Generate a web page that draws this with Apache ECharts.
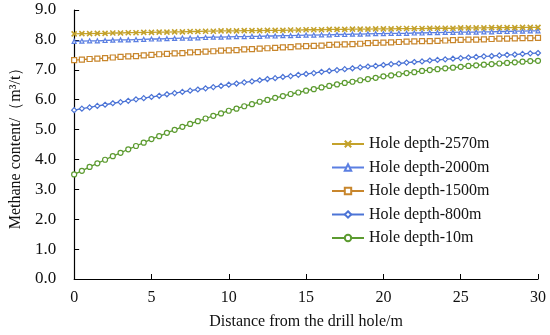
<!DOCTYPE html>
<html>
<head>
<meta charset="utf-8">
<script src="https://cdn.jsdelivr.net/npm/echarts@6/dist/echarts.min.js"></script>
<style>html,body{margin:0;padding:0;background:#fff}#c{width:550px;height:335px}</style>
</head>
<body>
<div id="c"></div>
<script>
var seriesNames = ['Hole depth-2570m','Hole depth-2000m','Hole depth-1500m','Hole depth-800m','Hole depth-10m'];
var xTicks = [0,5,10,15,20,25,30];
var yTicks = [0,1,2,3,4,5,6,7,8,9];
var distance = [0,0.5,1,1.5,2,2.5,3,3.5,4,4.5,5,5.5,6,6.5,7,7.5,8,8.5,9,9.5,10,10.5,11,11.5,12,12.5,13,13.5,14,14.5,15,15.5,16,16.5,17,17.5,18,18.5,19,19.5,20,20.5,21,21.5,22,22.5,23,23.5,24,24.5,25,25.5,26,26.5,27,27.5,28,28.5,29,29.5,30];
var depth2570 = [8.20,8.21,8.21,8.22,8.22,8.23,8.23,8.24,8.24,8.25,8.25,8.26,8.26,8.27,8.27,8.28,8.28,8.29,8.29,8.30,8.30,8.30,8.31,8.31,8.31,8.32,8.32,8.32,8.33,8.33,8.34,8.34,8.34,8.35,8.35,8.35,8.36,8.36,8.36,8.37,8.37,8.37,8.38,8.38,8.38,8.38,8.39,8.39,8.39,8.39,8.40,8.40,8.40,8.40,8.41,8.41,8.41,8.41,8.42,8.42,8.42];
var depth2000 = [7.95,7.96,7.97,7.97,7.98,7.99,8.00,8.00,8.01,8.02,8.03,8.03,8.04,8.05,8.06,8.06,8.07,8.08,8.09,8.09,8.10,8.11,8.11,8.12,8.12,8.13,8.13,8.14,8.14,8.15,8.16,8.16,8.17,8.17,8.18,8.18,8.19,8.19,8.20,8.21,8.21,8.22,8.22,8.22,8.23,8.23,8.24,8.24,8.25,8.25,8.26,8.26,8.26,8.27,8.27,8.28,8.28,8.29,8.29,8.30,8.30];
var depth1500 = [7.32,7.34,7.36,7.37,7.39,7.41,7.43,7.45,7.46,7.48,7.50,7.52,7.53,7.55,7.56,7.58,7.59,7.61,7.62,7.64,7.65,7.66,7.68,7.69,7.71,7.72,7.73,7.75,7.76,7.78,7.79,7.80,7.81,7.83,7.84,7.85,7.86,7.87,7.89,7.90,7.91,7.92,7.93,7.94,7.95,7.96,7.96,7.97,7.98,7.99,8.00,8.01,8.01,8.02,8.03,8.04,8.04,8.05,8.06,8.06,8.07];
var depth800 = [5.65,5.70,5.74,5.79,5.83,5.88,5.92,5.96,6.01,6.05,6.09,6.13,6.18,6.22,6.26,6.30,6.34,6.38,6.42,6.46,6.50,6.54,6.58,6.61,6.65,6.69,6.72,6.76,6.79,6.83,6.86,6.89,6.93,6.96,6.99,7.02,7.05,7.08,7.11,7.13,7.16,7.19,7.21,7.24,7.26,7.28,7.31,7.33,7.35,7.37,7.39,7.41,7.43,7.45,7.46,7.48,7.50,7.51,7.53,7.55,7.56];
var depth10 = [3.50,3.62,3.75,3.87,3.99,4.11,4.22,4.34,4.45,4.56,4.68,4.78,4.89,4.99,5.09,5.19,5.28,5.37,5.46,5.54,5.63,5.70,5.78,5.85,5.93,5.99,6.06,6.12,6.19,6.24,6.30,6.35,6.41,6.46,6.51,6.56,6.60,6.65,6.69,6.73,6.78,6.81,6.85,6.89,6.92,6.96,6.99,7.02,7.05,7.07,7.10,7.13,7.15,7.17,7.19,7.21,7.23,7.25,7.27,7.29,7.30];

var allValues = [depth2570, depth2000, depth1500, depth800, depth10];
var colors = ['#C4A22B','#5B7FE2','#C8862C','#4C74D6','#5C9B30'];
var symbols = [
  'path://M0,0 L10,10 M10,0 L0,10',
  'triangle',
  'rect',
  'diamond',
  'circle'
];
var symbolSizes = [5,4,5,5,5];
var fontFamily = '"Liberation Serif","Times New Roman",serif';

function pairs(v){ return distance.map(function(x,i){ return [x, v[i]]; }); }

var series = seriesNames.map(function(name, k){
  return {
    name: name,
    type: 'line',
    data: pairs(allValues[k]),
    symbol: symbols[k],
    symbolSize: symbolSizes[k],
    showAllSymbol: true,
    lineStyle: { color: colors[k], width: 1.3 },
    itemStyle: { color: '#ffffff', borderColor: colors[k], borderWidth: 1.2 },
    animation: false,
    z: 10 - k
  };
});
series[0].itemStyle = { color: colors[0], borderColor: colors[0], borderWidth: 1.6 };

var chart = echarts.init(document.getElementById('c'), null, { renderer: 'canvas' });
chart.setOption({
  backgroundColor: '#ffffff',
  animation: false,
  textStyle: { fontFamily: fontFamily },
  grid: { left: 69, right: 12, top: 10, bottom: 54, containLabel: false },
  legend: {
    orient: 'vertical',
    left: 326,
    top: 131,
    itemWidth: 32,
    itemHeight: 8,
    itemGap: 7.5,
    textStyle: { fontFamily: fontFamily, fontSize: 16, color: '#111' },
    data: seriesNames
  },
  xAxis: {
    type: 'value',
    min: xTicks[0],
    max: xTicks[xTicks.length - 1],
    interval: 5,
    name: 'Distance from the drill hole/m',
    nameLocation: 'middle',
    nameGap: 35,
    nameTextStyle: { fontFamily: fontFamily, fontSize: 16, color: '#111' },
    axisLine: { lineStyle: { color: '#000', width: 1.2 } },
    axisTick: { inside: true, length: 5, lineStyle: { color: '#000' } },
    axisLabel: { fontFamily: fontFamily, fontSize: 16, color: '#111', margin: 11 },
    splitLine: { show: false }
  },
  yAxis: {
    type: 'value',
    min: yTicks[0],
    max: yTicks[yTicks.length - 1],
    interval: 1,
    name: 'Methane content/（m³/t）',
    nameLocation: 'middle',
    nameGap: 37,
    nameTextStyle: { fontFamily: fontFamily, fontSize: 16, color: '#111' },
    axisLine: { show: true, lineStyle: { color: '#000', width: 1.2 } },
    axisTick: { show: true, inside: true, length: 5, lineStyle: { color: '#000' } },
    axisLabel: { fontFamily: fontFamily, fontSize: 17, color: '#111', margin: 18,
      formatter: function(v){ return v.toFixed(1); } },
    splitLine: { show: false }
  },
  series: series
});
</script>
</body>
</html>
